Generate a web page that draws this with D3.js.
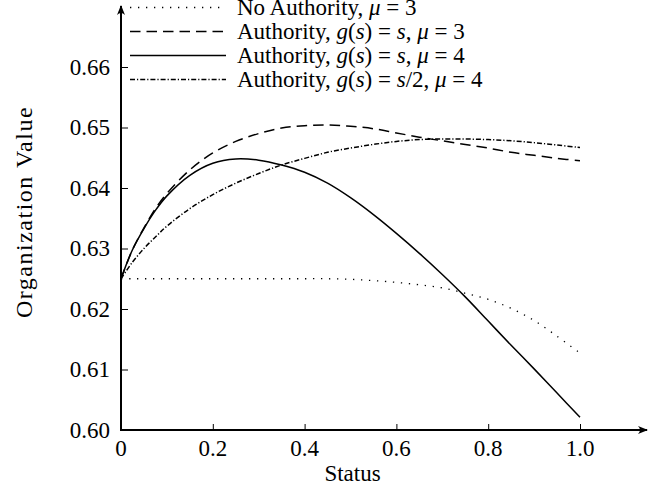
<!DOCTYPE html>
<html>
<head>
<meta charset="utf-8">
<script src="https://cdn.jsdelivr.net/npm/d3@7"></script>
<style>
  html, body { margin: 0; padding: 0; background: #fff; }
  svg { display: block; }
  text { font-family: "Liberation Serif", "DejaVu Serif", serif; fill: #000; }
</style>
</head>
<body>
<svg id="chart" width="649" height="490"></svg>
<script>
// ---- data ----
const status = [0, 0.025, 0.05, 0.075, 0.1, 0.15, 0.2, 0.25, 0.3, 0.35, 0.4, 0.45, 0.5, 0.55, 0.6, 0.65, 0.7, 0.75, 0.8, 0.85, 0.9, 0.95, 1.0];
const noAuthorityMu3 = [0.625, 0.625, 0.625, 0.625, 0.625, 0.625, 0.625, 0.625, 0.625, 0.625, 0.625, 0.6250, 0.6249, 0.6247, 0.6244, 0.6240, 0.6235, 0.6226, 0.6216, 0.6201, 0.6181, 0.6155, 0.6127];
const authGsMu3 = [0.625, 0.6298, 0.6334, 0.6366, 0.6391, 0.6430, 0.6458, 0.6477, 0.6490, 0.6499, 0.6503, 0.6504, 0.6502, 0.6498, 0.6491, 0.6484, 0.6478, 0.6472, 0.6466, 0.6459, 0.6454, 0.6449, 0.6445];
const authGsMu4 = [0.625, 0.6298, 0.6333, 0.6363, 0.6387, 0.6421, 0.6441, 0.6448, 0.6446, 0.6438, 0.6426, 0.6408, 0.6384, 0.6356, 0.6325, 0.6292, 0.6257, 0.6220, 0.6180, 0.6140, 0.6101, 0.6061, 0.6021];
const authGs2Mu4 = [0.625, 0.62775, 0.6300, 0.6319, 0.6337, 0.6366, 0.6389, 0.6408, 0.6424, 0.6438, 0.6449, 0.6459, 0.6466, 0.6472, 0.6477, 0.6480, 0.6481, 0.6481, 0.6480, 0.6478, 0.6475, 0.6471, 0.6467];

const xTicks = [0, 0.2, 0.4, 0.6, 0.8, 1.0];
const xTickLabels = ["0", "0.2", "0.4", "0.6", "0.8", "1.0"];
const yTicks = [0.60, 0.61, 0.62, 0.63, 0.64, 0.65, 0.66];
const yTickLabels = ["0.60", "0.61", "0.62", "0.63", "0.64", "0.65", "0.66"];

// legend labels: segments [text, italic?]
const legendLabels = [
  [["No Authority, ", false], ["μ", true], [" = 3", false]],
  [["Authority, ", false], ["g", true], ["(", false], ["s", true], [") = ", false], ["s", true], [", ", false], ["μ", true], [" = 3", false]],
  [["Authority, ", false], ["g", true], ["(", false], ["s", true], [") = ", false], ["s", true], [", ", false], ["μ", true], [" = 4", false]],
  [["Authority, ", false], ["g", true], ["(", false], ["s", true], [") = ", false], ["s", true], ["/2, ", false], ["μ", true], [" = 4", false]]
];
const seriesValues = [noAuthorityMu3, authGsMu3, authGsMu4, authGs2Mu4];
const dashStyles = ["1.3,6.7", "10.5,6", null, "5,2,1.2,2"];

// ---- scales ----
const svg = d3.select("#chart");
const x = d3.scaleLinear().domain([0, 1]).range([121, 580]);
const y = d3.scaleLinear().domain([0.60, 0.66]).range([430, 67]);
const fs = 23;

const defs = svg.append("defs");
defs.append("marker").attr("id", "arrow").attr("viewBox", "0 0 10 10")
  .attr("refX", 9).attr("refY", 5).attr("markerWidth", 10).attr("markerHeight", 10)
  .attr("markerUnits", "userSpaceOnUse").attr("orient", "auto")
  .append("path").attr("d", "M0,1 Q4,5 0,9 L10,5 Z").attr("fill", "#000");

// x ticks (inward, up)
const xAxis = d3.axisTop(x).tickValues(xTicks).tickSize(6).tickFormat("");
const gx = svg.append("g").attr("transform", "translate(0,430)").call(xAxis);
gx.select(".domain").remove();
gx.selectAll(".tick line").attr("stroke", "#000").attr("stroke-width", 1);

const yAxis = d3.axisRight(y).tickValues(yTicks).tickSize(7).tickFormat("");
const gy = svg.append("g").attr("transform", "translate(121,0)").call(yAxis);
gy.select(".domain").remove();
gy.selectAll(".tick line").attr("stroke", "#000").attr("stroke-width", 1);

svg.append("line").attr("x1", x(0)).attr("x2", 647).attr("y1", 430).attr("y2", 430)
  .attr("stroke", "#000").attr("stroke-width", 2).attr("marker-end", "url(#arrow)");
svg.append("line").attr("x1", 121).attr("x2", 121).attr("y1", 431).attr("y2", 6)
  .attr("stroke", "#000").attr("stroke-width", 2).attr("marker-end", "url(#arrow)");

// tick labels
svg.append("g").selectAll("text").data(xTicks).join("text")
  .attr("x", d => x(d)).attr("y", 456)
  .attr("text-anchor", "middle").attr("font-size", fs)
  .text((d, i) => xTickLabels[i]);
svg.append("g").selectAll("text").data(yTicks).join("text")
  .attr("x", 110).attr("y", d => y(d) + 7.5)
  .attr("text-anchor", "end").attr("font-size", fs)
  .text((d, i) => yTickLabels[i]);

// axis titles
svg.append("text").attr("x", x(0.5) + 2).attr("y", 481).attr("text-anchor", "middle")
  .attr("font-size", fs).text("Status");
svg.append("text").attr("transform", "translate(32,212) rotate(-90)")
  .attr("text-anchor", "middle").attr("font-size", 24).attr("letter-spacing", 1.5)
  .text("Organization Value");

// curves
const line = d3.line().x((d, i) => x(status[i])).y(d => y(d)).curve(d3.curveCatmullRom.alpha(0.5));
seriesValues.forEach((vals, k) => {
  const p = svg.append("path").attr("d", line(vals)).attr("fill", "none")
    .attr("stroke", "#000").attr("stroke-width", k === 0 ? 1.3 : 1.5);
  if (dashStyles[k]) p.attr("stroke-dasharray", dashStyles[k]);
});

// legend
const legendY = [7.5, 31.5, 55.5, 79.5];
const lg = svg.append("g");
legendLabels.forEach((segs, k) => {
  const l = lg.append("line").attr("x1", 130).attr("x2", 226)
    .attr("y1", legendY[k]).attr("y2", legendY[k])
    .attr("stroke", "#000").attr("stroke-width", k === 0 ? 1.3 : 1.5);
  if (dashStyles[k]) l.attr("stroke-dasharray", dashStyles[k]);
  const t = lg.append("text").attr("x", 237).attr("y", legendY[k] + 7.5).attr("font-size", fs);
  segs.forEach(s => {
    t.append("tspan").attr("font-style", s[1] ? "italic" : "normal").text(s[0]);
  });
});
</script>
</body>
</html>
